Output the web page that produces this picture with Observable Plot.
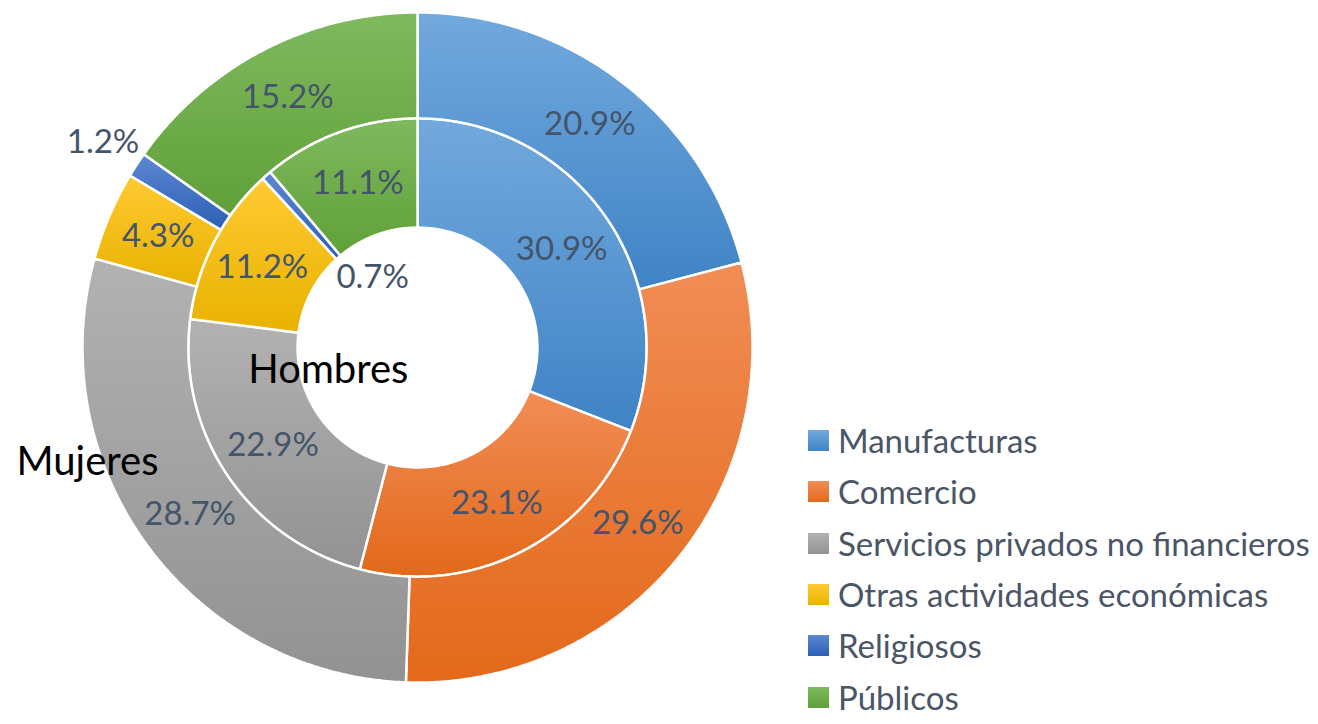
<!DOCTYPE html>
<html>
<head>
<meta charset="utf-8">
<script src="https://cdn.jsdelivr.net/npm/d3@7"></script>
<script src="https://cdn.jsdelivr.net/npm/@observablehq/plot@0.6"></script>
<style>
  html, body { margin: 0; padding: 0; background: #fff; }
  #wrap { position: relative; width: 1318px; height: 724px; overflow: hidden; font-family: Lato, "Open Sans", sans-serif; }
  #legend { position: absolute; left: 808px; top: 415px; }
  .item { display: flex; align-items: center; height: 51.3px; font-size: 33px; line-height: 1; color: #4a5566; white-space: nowrap; }
  .sw { width: 21px; height: 21px; margin-right: 9px; flex: none; }
</style>
</head>
<body>
<div id="wrap"></div>
<script>
// ---- data ----
const categories = ["Manufacturas", "Comercio", "Servicios privados no financieros", "Otras actividades económicas", "Religiosos", "Públicos"];
const mujeres = [20.9, 29.6, 28.7, 4.3, 1.2, 15.2];   // outer ring
const hombres = [30.9, 23.1, 22.9, 11.2, 0.7, 11.1];  // inner ring
const seriesNames = ["Hombres", "Mujeres"];
const colorsTop = ["#72a9dd", "#f18d56", "#b2b2b2", "#ffca33", "#5d88d2", "#80b95f"];
const colorsBottom = ["#3f83c6", "#e3691a", "#929292", "#e8b200", "#2c5fb6", "#5fa038"];

// ---- geometry (unit circle data space) ----
const R_OUT = 1, R_MID = 0.684, R_IN = 0.358;
const rings = [
  {name: seriesNames[0], values: hombres, r0: R_IN, r1: R_MID, key: "h"},
  {name: seriesNames[1], values: mujeres, r0: R_MID, r1: R_OUT, key: "m"}
];

const slices = [];
const labels = [];
for (const ring of rings) {
  const arcs = d3.pie().sort(null).value(d => d)(ring.values);
  arcs.forEach((a, i) => {
    const pts = [];
    const n = Math.max(4, Math.ceil((a.endAngle - a.startAngle) / (Math.PI / 360)));
    for (let k = 0; k <= n; k++) {
      const t = a.startAngle + (a.endAngle - a.startAngle) * k / n;
      pts.push({x: ring.r1 * Math.sin(t), y: ring.r1 * Math.cos(t)});
    }
    for (let k = n; k >= 0; k--) {
      const t = a.startAngle + (a.endAngle - a.startAngle) * k / n;
      pts.push({x: ring.r0 * Math.sin(t), y: ring.r0 * Math.cos(t)});
    }
    pts.push(pts[0]);
    slices.push({id: ring.key + i, cat: i, pts});
    const mid = (a.startAngle + a.endAngle) / 2;
    let r = (ring.r0 + ring.r1) / 2;
    let ang = mid;
    if (a.data < 2) {
      if (ring.key === "m") r = ring.r1 + 0.12;     // small outer slice: label outside
      else { r = ring.r0 - 0.11; ang = mid + 0.15; } // small inner slice: label in hole
    }
    labels.push({x: r * Math.sin(ang), y: r * Math.cos(ang), text: d3.format(".1f")(a.data) + "%"});
  });
}

const seriesLabels = [
  {x: -0.266, y: -0.069, text: seriesNames[0]},
  {x: -0.985, y: -0.343, text: seriesNames[1]}
];

const defs = () => {
  const ns = "http://www.w3.org/2000/svg";
  const d = document.createElementNS(ns, "defs");
  categories.forEach((c, i) => {
    const g = document.createElementNS(ns, "linearGradient");
    g.setAttribute("id", "grad" + i);
    g.setAttribute("x1", "0"); g.setAttribute("y1", "0");
    g.setAttribute("x2", "0"); g.setAttribute("y2", "1");
    const s0 = document.createElementNS(ns, "stop");
    s0.setAttribute("offset", "0"); s0.setAttribute("stop-color", colorsTop[i]);
    const s1 = document.createElementNS(ns, "stop");
    s1.setAttribute("offset", "1"); s1.setAttribute("stop-color", colorsBottom[i]);
    g.append(s0, s1);
    d.append(g);
  });
  return d;
};

const chart = Plot.plot({
  width: 1318,
  height: 724,
  margin: 0,
  x: {domain: [-1, 1], range: [82, 752], axis: null},
  y: {domain: [-1, 1], range: [682, 12], axis: null},
  style: {fontFamily: "Lato, 'Open Sans', sans-serif", background: "#fff"},
  marks: [
    defs,
    ...slices.map(s => Plot.line(s.pts, {
      x: "x", y: "y", fill: `url(#grad${s.cat})`, stroke: "#fff", strokeWidth: 2.5, strokeLinejoin: "miter"
    })),
    Plot.text(labels, {x: "x", y: "y", text: "text", fill: "#44546a", fontSize: 33}),
    Plot.text(seriesLabels, {x: "x", y: "y", text: "text", fill: "#000", fontSize: 40})
  ]
});

const wrap = document.getElementById("wrap");
wrap.append(chart);
const legend = document.createElement("div");
legend.id = "legend";
categories.forEach((c, i) => {
  const it = document.createElement("div");
  it.className = "item";
  const sw = document.createElement("span");
  sw.className = "sw";
  sw.style.background = `linear-gradient(${colorsTop[i]}, ${colorsBottom[i]})`;
  const tx = document.createElement("span");
  tx.textContent = c;
  it.append(sw, tx);
  legend.append(it);
});
wrap.append(legend);
</script>
</body>
</html>
